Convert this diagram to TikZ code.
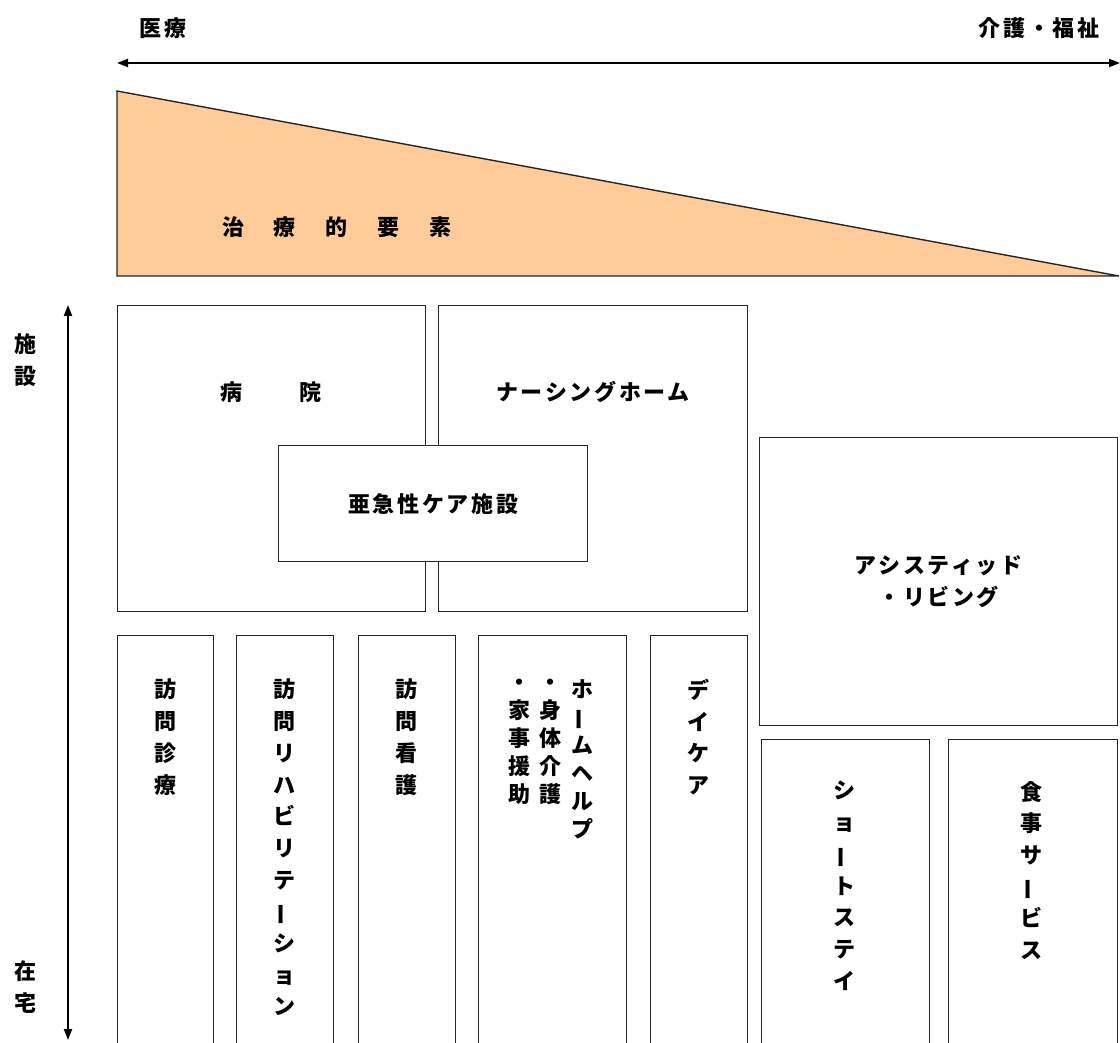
\documentclass[tikz,border=0pt]{standalone}
\usepackage{fontspec}
\setmainfont{Noto Sans CJK JP}
\usetikzlibrary{arrows.meta}
\newcommand{\vbar}{\smash{\rotatebox[origin=c]{90}{ー}}}
\tikzset{
  lbl/.style={font=\fontsize{22}{32}\selectfont\bfseries\addfontfeature{LetterSpace=12}, inner sep=0pt, align=center},
  plain/.style={font=\fontsize{22}{32}\selectfont\bfseries, inner sep=0pt, align=center},
  vlbl/.style={font=\fontsize{22}{31.7}\selectfont\bfseries, align=center, inner sep=0pt, anchor=north},
  vlbls/.style={font=\fontsize{22}{28}\selectfont\bfseries, align=center, inner sep=0pt, anchor=north},
  box/.style={draw=black!85, line width=1.4pt, inner sep=0pt, fill=white, anchor=north west},
  axis/.style={line width=2pt, {Triangle[length=11pt,width=8pt]}-{Triangle[length=11pt,width=8pt]}},
  tri/.style={fill={rgb,255:red,255;green,204;blue,153}, draw=black!85, line width=1.4pt}
}
\begin{document}
\begin{tikzpicture}[x=1pt,y=-1pt]
\clip (0,0) rectangle (1120,1043);
\fill[white] (0,0) rectangle (1120,1043);
% top axis
\node[lbl] (med) at (163,28) {医療};
\node[lbl] (care) at (1039,28) {介護・福祉};
\coordinate (hl) at (117,63);
\coordinate (hr) at (1120,63);
\draw[axis] (hl) -- (hr);
% triangle
\coordinate (t1) at (117,91);
\coordinate (t2) at (1119,276);
\coordinate (t3) at (117,276);
\filldraw[tri] (t1) -- (t2) -- (t3) -- cycle;
\node[plain] (trt) at (337,227) {\makebox[52pt]{治}\makebox[52pt]{療}\makebox[52pt]{的}\makebox[52pt]{要}\makebox[52pt]{素}};
% vertical axis
\coordinate (vt) at (68,305);
\coordinate (vb) at (68,1040);
\draw[axis] (vt) -- (vb);
\node[plain] (inst) at (25,360) {施\\設};
\node[plain] (home) at (25,987) {在\\宅};
% facility boxes
\node[box, minimum width=308pt, minimum height=306pt] (hosp) at (117,305) {};
\node[box, minimum width=309pt, minimum height=306pt] (nurs) at (438,305) {};
\node[plain] (hospt) at (271,392) {病\hspace{58pt}院};
\node[lbl] (nurst) at (593,392) {ナーシングホーム};
\node[box, minimum width=309pt, minimum height=116pt] (sub) at (278,445) {};
\node[lbl] (subt) at (sub.center) {亜急性ケア施設};
\node[box, minimum width=358pt, minimum height=288pt] (asl) at (759,437) {};
\node[lbl] (aslt) at (asl.center) {アシスティッド\\・リビング};
% home service boxes
\node[box, minimum width=96pt, minimum height=440pt] (b1) at (117,635) {};
\node[box, minimum width=97pt, minimum height=440pt] (b2) at (236,635) {};
\node[box, minimum width=97pt, minimum height=440pt] (b3) at (358,635) {};
\node[box, minimum width=148pt, minimum height=440pt] (b4) at (478,635) {};
\node[box, minimum width=97pt, minimum height=440pt] (b5) at (650,635) {};
\node[box, minimum width=168pt, minimum height=340pt] (b6) at (761,739) {};
\node[box, minimum width=169pt, minimum height=340pt] (b7) at (948,739) {};
\node[vlbl] (b1t) at (165,679) {訪\\問\\診\\療};
\node[vlbl] (b2t) at (284.5,679) {訪\\問\\リ\\ハ\\ビ\\リ\\テ\\\vbar\\シ\\ョ\\ン};
\node[vlbl] (b3t) at (406.5,679) {訪\\問\\看\\護};
\node[vlbls] (b4a) at (582,679) {ホ\\\vbar\\ム\\ヘ\\ル\\プ};
\node[vlbls] (b4b) at (550,679) {・\\身\\体\\介\\護};
\node[vlbls] (b4c) at (519,679) {・\\家\\事\\援\\助};
\node[vlbl] (b5t) at (698.5,679) {デ\\イ\\ケ\\ア};
\node[vlbl] (b6t) at (844,781) {シ\\ョ\\\vbar\\ト\\ス\\テ\\イ};
\node[vlbl] (b7t) at (1031,781) {食\\事\\サ\\\vbar\\ビ\\ス};
\end{tikzpicture}
\end{document}
